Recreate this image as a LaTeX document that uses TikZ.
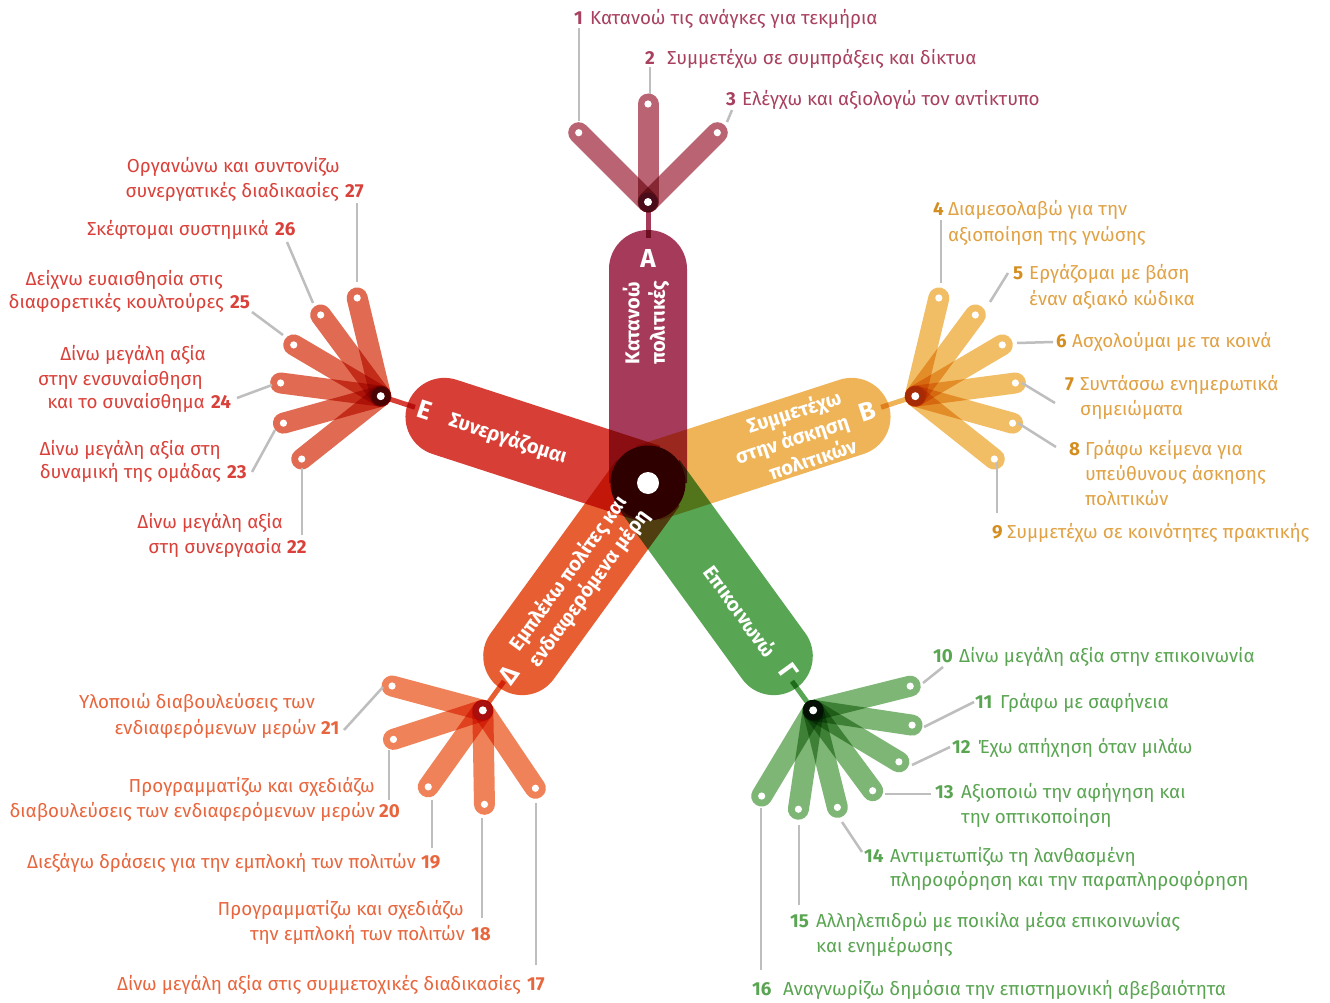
\documentclass[tikz,border=0pt]{standalone}
\usepackage{fontspec}
\setmainfont{Fira Sans}
\usetikzlibrary{calc}
\definecolor{armA}{HTML}{A63A5A}
\definecolor{armB}{HTML}{EFB457}
\definecolor{armC}{HTML}{58A654}
\definecolor{armD}{HTML}{E85E33}
\definecolor{armE}{HTML}{D73F36}
\definecolor{fanA}{HTML}{BA6473}
\definecolor{fanB}{HTML}{F1BE66}
\definecolor{fanC}{HTML}{7EB676}
\definecolor{fanD}{HTML}{EF8259}
\definecolor{fanE}{HTML}{E06B52}
\definecolor{hubA}{HTML}{4A0C1A}
\definecolor{hubB}{HTML}{A52A06}
\definecolor{hubC}{HTML}{050F05}
\definecolor{hubD}{HTML}{A81010}
\definecolor{hubE}{HTML}{4A0404}
\definecolor{core}{HTML}{2E0000}
\definecolor{txtA}{HTML}{A8405F}
\definecolor{txtB}{HTML}{E0A244}
\definecolor{numB}{HTML}{D48E1F}
\definecolor{txtC}{HTML}{5AA552}
\definecolor{txtD}{HTML}{E8663D}
\definecolor{txtE}{HTML}{D9413A}
\definecolor{lead}{HTML}{BEBEBE}
\begin{document}
\begin{tikzpicture}[x=1pt,y=1pt,
  lab/.style={inner sep=0pt, font=\fontsize{18.8}{24}\selectfont},
  num/.style={inner sep=0pt, font=\fontsize{18.8}{24}\selectfont\bfseries},
  leader/.style={draw=lead, line width=2.5pt},
  armtxt/.style={text=white, font=\bfseries\fontsize{20}{25.5}\selectfont, align=center, inner sep=0pt},
  armlet/.style={text=white, font=\bfseries\fontsize{26}{28}\selectfont, inner sep=0pt},
  fan/.style={line width=21pt, line cap=round},
  ]
\useasboundingbox (0,0) rectangle (1330,-1003);
\fill[white] (0,0) rectangle (1330,-1003);
\coordinate (C) at (648,-483);
\path (C) ++(90:281) coordinate (hA);
\path (C) ++(18:281) coordinate (hB);
\path (C) ++(-54:281) coordinate (hC);
\path (C) ++(-126:281) coordinate (hD);
\path (C) ++(162:281) coordinate (hE);

\begin{scope}[blend mode=multiply]
\foreach \ang/\col in {90/armA, 18/armB, -54/armC, -126/armD, 162/armE} {
  \begin{scope}[shift={(C)}, rotate=\ang]
    \fill[\col] (0,-39) -- (214,-39) arc[start angle=-90, end angle=90, radius=39] -- (0,39) -- cycle;
    \draw[\col, line width=5pt] (245,0) -- (281,0);
  \end{scope}
}
\foreach \a in {135,90,45} \draw[fan, fanA] (hA) -- ++(\a:98);
\foreach \a in {76.5,53.5,30.5,7.5,-15.5,-38.5} \draw[fan, fanB] (hB) -- ++(\a:101);
\foreach \a in {14,-8.5,-31,-53.5,-76,-98.5,-121} \draw[fan, fanC] (hC) -- ++(\a:100);
\foreach \a in {165,198,234.5,271,304} \draw[fan, fanD] (hD) -- ++(\a:94);
\foreach \a in {103.5,126.5,149.5,172.5,195.5,218.5} \draw[fan, fanE] (hE) -- ++(\a:101);
\end{scope}

\fill[core] (C) circle (37.5);
\fill[white] (C) circle (11);

\foreach \h/\c in {hA/hubA, hB/hubB, hC/hubC, hD/hubD, hE/hubE} {
  \fill[\c] (\h) circle (9.5);
  \fill[white] (\h) circle (4);
}
\foreach \a in {135,90,45} \fill[white] (hA) ++(\a:98) circle (3.6);
\foreach \a in {76.5,53.5,30.5,7.5,-15.5,-38.5} \fill[white] (hB) ++(\a:101) circle (3.6);
\foreach \a in {14,-8.5,-31,-53.5,-76,-98.5,-121} \fill[white] (hC) ++(\a:100) circle (3.6);
\foreach \a in {165,198,234.5,271,304} \fill[white] (hD) ++(\a:94) circle (3.6);
\foreach \a in {103.5,126.5,149.5,172.5,195.5,218.5} \fill[white] (hE) ++(\a:101) circle (3.6);

% arm texts
\node[armlet] (LA) at (648,-258) {Α};
\node[armtxt, rotate=90] (TA) at (646,-323) {Κατανοώ\\πολιτικές};
\node[armlet, rotate=18] (LB) at (867,-411) {Β};
\node[armtxt, align=right, rotate=18, anchor=east] (TB) at (848,-420) {Συμμετέχω\\στην άσκηση\\πολιτικών};
\node[armlet, rotate=-54] (LC) at (789,-672) {Γ};
\node[armtxt, rotate=-54] (TC) at (741,-611) {Επικοινωνώ};
\node[armlet, rotate=54] (LD) at (509,-675) {Δ};
\node[armtxt, rotate=54] (TD) at (579,-581) {Εμπλέκω πολίτες και\\ενδιαφερόμενα μέρη};
\node[armlet, rotate=-18] (LE) at (425,-410) {Ε};
\node[armtxt, rotate=-18] (TE) at (508,-439) {Συνεργάζομαι};

% leaders
\foreach \n/\ax/\ay/\bx/\by in {
  1/579/28/579/121, 2/650/67/650/94, 3/732/110/727/122,
  4/941/220/941/283, 5/1008/273/990/302, 6/1017/343/1053/342, 7/1022/383/1055/403,
  8/1018/423/1056/447, 9/997/462/997/513,
  10/923/683/943/667, 11/924/727/974/702, 12/912/765/950/747, 13/885/794/931/794,
  14/842/822/862/852, 15/799/825/799/905, 16/761/808/761/970,
  21/344/730/383/687, 20/389/750/389/800, 19/432/800/432/848, 18/482/818/482/918, 17/536/803/536/965,
  27/357/203/357/282, 26/287/242/313/303, 25/252/312/283/335, 24/237/398/272/385,
  23/252/472/275/430, 22/302/468/302/535} {
  \coordinate (u\n) at (\ax,-\ay);
  \coordinate (v\n) at (\bx,-\by);
  \draw[leader] (u\n) -- (v\n);
}

% A labels
\node[num,text=txtA,anchor=base west] (n1) at (574,-25) {1};
\node[lab,text=txtA,anchor=base west] (t1) at (590,-25) {Κατανοώ τις ανάγκες για τεκμήρια};
\node[num,text=txtA,anchor=base west] (n2) at (645,-65) {2};
\node[lab,text=txtA,anchor=base west] (t2) at (667,-65) {Συμμετέχω σε συμπράξεις και δίκτυα};
\node[num,text=txtA,anchor=base west] (n3) at (726,-106) {3};
\node[lab,text=txtA,anchor=base west] (t3) at (742,-106) {Ελέγχω και αξιολογώ τον αντίκτυπο};

% B labels
\node[num,text=numB,anchor=base west] (n4) at (933,-215) {4};
\node[lab,text=txtB,anchor=base west] (t4a) at (948,-215) {Διαμεσολαβώ για την};
\node[lab,text=txtB,anchor=base west] (t4b) at (948,-241) {αξιοποίηση της γνώσης};
\node[num,text=numB,anchor=base west] (n5) at (1013,-279) {5};
\node[lab,text=txtB,anchor=base west] (t5a) at (1029,-279) {Εργάζομαι με βάση};
\node[lab,text=txtB,anchor=base west] (t5b) at (1029,-305) {έναν αξιακό κώδικα};
\node[num,text=numB,anchor=base west] (n6) at (1056,-347) {6};
\node[lab,text=txtB,anchor=base west] (t6) at (1072,-347) {Ασχολούμαι με τα κοινά};
\node[num,text=numB,anchor=base west] (n7) at (1065,-390) {7};
\node[lab,text=txtB,anchor=base west] (t7a) at (1080,-390) {Συντάσσω ενημερωτικά};
\node[lab,text=txtB,anchor=base west] (t7b) at (1080,-415) {σημειώματα};
\node[num,text=numB,anchor=base west] (n8) at (1069,-455) {8};
\node[lab,text=txtB,anchor=base west] (t8a) at (1085,-455) {Γράφω κείμενα για};
\node[lab,text=txtB,anchor=base west] (t8b) at (1085,-480) {υπεύθυνους άσκησης};
\node[lab,text=txtB,anchor=base west] (t8c) at (1085,-505) {πολιτικών};
\node[num,text=numB,anchor=base west] (n9) at (992,-538) {9};
\node[lab,text=txtB,anchor=base west] (t9) at (1007,-538) {Συμμετέχω σε κοινότητες πρακτικής};

% C labels
\node[num,text=txtC,anchor=base west] (n10) at (933,-662) {10};
\node[lab,text=txtC,anchor=base west] (t10) at (959,-662) {Δίνω μεγάλη αξία στην επικοινωνία};
\node[num,text=txtC,anchor=base west] (n11) at (975,-708) {11};
\node[lab,text=txtC,anchor=base west] (t11) at (1000,-708) {Γράφω με σαφήνεια};
\node[num,text=txtC,anchor=base west] (n12) at (952,-753) {12};
\node[lab,text=txtC,anchor=base west] (t12) at (978,-753) {Έχω απήχηση όταν μιλάω};
\node[num,text=txtC,anchor=base west] (n13) at (935,-798) {13};
\node[lab,text=txtC,anchor=base west] (t13a) at (961,-798) {Αξιοποιώ την αφήγηση και};
\node[lab,text=txtC,anchor=base west] (t13b) at (961,-823) {την οπτικοποίηση};
\node[num,text=txtC,anchor=base west] (n14) at (864,-862) {14};
\node[lab,text=txtC,anchor=base west] (t14a) at (890,-862) {Αντιμετωπίζω τη λανθασμένη};
\node[lab,text=txtC,anchor=base west] (t14b) at (890,-886) {πληροφόρηση και την παραπληροφόρηση};
\node[num,text=txtC,anchor=base west] (n15) at (790,-927) {15};
\node[lab,text=txtC,anchor=base west] (t15a) at (816,-927) {Αλληλεπιδρώ με ποικίλα μέσα επικοινωνίας};
\node[lab,text=txtC,anchor=base west] (t15b) at (816,-952) {και ενημέρωσης};
\node[num,text=txtC,anchor=base west] (n16) at (752,-995) {16};
\node[lab,text=txtC,anchor=base west] (t16) at (783,-995) {Αναγνωρίζω δημόσια την επιστημονική αβεβαιότητα};

% D labels
\node[lab,text=txtD,anchor=base east] (t21a) at (315,-708) {Υλοποιώ διαβουλεύσεις των};
\node[lab,text=txtD,anchor=base east] (t21b) at (316,-734) {ενδιαφερόμενων μερών};
\node[num,text=txtD,anchor=base west] (n21) at (321,-734) {21};
\node[lab,text=txtD,anchor=base east] (t20a) at (375,-792) {Προγραμματίζω και σχεδιάζω};
\node[lab,text=txtD,anchor=base east] (t20b) at (375,-817) {διαβουλεύσεις των ενδιαφερόμενων μερών};
\node[num,text=txtD,anchor=base west] (n20) at (379,-817) {20};
\node[lab,text=txtD,anchor=base east] (t19) at (416,-868) {Διεξάγω δράσεις για την εμπλοκή των πολιτών};
\node[num,text=txtD,anchor=base west] (n19) at (421,-868) {19};
\node[lab,text=txtD,anchor=base east] (t18a) at (464,-915) {Προγραμματίζω και σχεδιάζω};
\node[lab,text=txtD,anchor=base east] (t18b) at (465,-940) {την εμπλοκή των πολιτών};
\node[num,text=txtD,anchor=base west] (n18) at (471,-940) {18};
\node[lab,text=txtD,anchor=base east] (t17) at (521,-990) {Δίνω μεγάλη αξία στις συμμετοχικές διαδικασίες};
\node[num,text=txtD,anchor=base west] (n17) at (527,-990) {17};

% E labels
\node[lab,text=txtE,anchor=base east] (t27a) at (340,-173) {Οργανώνω και συντονίζω};
\node[lab,text=txtE,anchor=base east] (t27b) at (339,-197) {συνεργατικές διαδικασίες};
\node[num,text=txtE,anchor=base west] (n27) at (345,-197) {27};
\node[lab,text=txtE,anchor=base east] (t26) at (269,-236) {Σκέφτομαι συστημικά};
\node[num,text=txtE,anchor=base west] (n26) at (275,-236) {26};
\node[lab,text=txtE,anchor=base east] (t25a) at (223,-285) {Δείχνω ευαισθησία στις};
\node[lab,text=txtE,anchor=base east] (t25b) at (224,-308) {διαφορετικές κουλτούρες};
\node[num,text=txtE,anchor=base west] (n25) at (230,-308) {25};
\node[lab,text=txtE,anchor=base east] (t24a) at (206,-360) {Δίνω μεγάλη αξία};
\node[lab,text=txtE,anchor=base east] (t24b) at (203,-385) {στην ενσυναίσθηση};
\node[lab,text=txtE,anchor=base east] (t24c) at (205,-408) {και το συναίσθημα};
\node[num,text=txtE,anchor=base west] (n24) at (211,-408) {24};
\node[lab,text=txtE,anchor=base east] (t23a) at (221,-455) {Δίνω μεγάλη αξία στη};
\node[lab,text=txtE,anchor=base east] (t23b) at (221,-478) {δυναμική της ομάδας};
\node[num,text=txtE,anchor=base west] (n23) at (227,-478) {23};
\node[lab,text=txtE,anchor=base east] (t22a) at (283,-528) {Δίνω μεγάλη αξία};
\node[lab,text=txtE,anchor=base east] (t22b) at (282,-553) {στη συνεργασία};
\node[num,text=txtE,anchor=base west] (n22) at (287,-553) {22};
\end{tikzpicture}
\end{document}
